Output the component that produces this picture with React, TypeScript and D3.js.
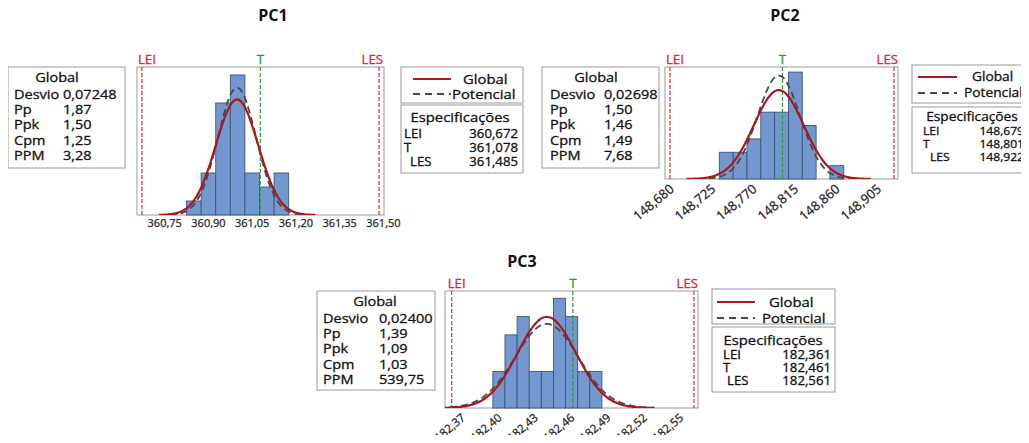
import React from 'react';
import * as d3 from 'd3';

// ---- data ----
const statLabels = ['Desvio', 'Pp', 'Ppk', 'Cpm', 'PPM'];
const specLabels = ['LEI', 'T', 'LES'];

const pc1Stats = ['0,07248', '1,87', '1,50', '1,25', '3,28'];
const pc1Specs = [360.672, 361.078, 361.485];
const pc1Ticks = [360.75, 360.9, 361.05, 361.2, 361.35, 361.5];
const pc1Edges = [360.825, 360.875, 360.925, 360.975, 361.025, 361.075, 361.125, 361.175];
const pc1Counts = [1, 3, 8, 10, 3, 2, 3];
const pc1Mean = 360.998;
const pc1SigmaGlobal = 0.07248;
const pc1SigmaWithin = 0.0658;

const pc2Stats = ['0,02698', '1,50', '1,46', '1,49', '7,68'];
const pc2Specs = [148.679, 148.801, 148.922];
const pc2Ticks = [148.68, 148.725, 148.77, 148.815, 148.86, 148.905];
const pc2Edges = [148.7325, 148.7475, 148.7625, 148.7775, 148.7925, 148.8075, 148.8225, 148.8375, 148.8525, 148.8675];
const pc2Counts = [2, 2, 3, 5, 5, 8, 4, 0, 1];
const pc2Mean = 148.797;
const pc2SigmaGlobal = 0.02698;
const pc2SigmaWithin = 0.0232;

const pc3Stats = ['0,02400', '1,39', '1,09', '1,03', '539,75'];
const pc3Specs = [182.361, 182.461, 182.561];
const pc3Ticks = [182.37, 182.4, 182.43, 182.46, 182.49, 182.52, 182.55];
const pc3Edges = [182.395, 182.405, 182.415, 182.425, 182.435, 182.445, 182.455, 182.465, 182.475, 182.485];
const pc3Counts = [2, 4, 5, 2, 2, 6, 5, 2, 2];
const pc3Mean = 182.4395;
const pc3SigmaGlobal = 0.024;
const pc3SigmaWithin = 0.026;

const FONT = '"Open Sans", "Noto Sans", sans-serif';
const RED = '#a8191c';
const SPEC_RED = '#de2a35';
const GREEN = '#2f9a40';
const SX = 1.1; // the reference text is a little wide for its height

const fmt = (v: number, d: number) => v.toFixed(d).replace('.', ',');

// text stretched horizontally around its anchor
function Txt({ x, y, anchor = 'start', size = 13.5, fill = '#111', children }: any) {
  return (
    <text
      transform={`translate(${x},${y}) scale(${SX},1)`}
      textAnchor={anchor}
      dy="0.35em"
      fontSize={size}
      fill={fill}
      stroke={fill}
      strokeWidth={0.3}
    >
      {children}
    </text>
  );
}

function fitted(mean: number, sigma: number, n: number, bw: number, lo: number, hi: number) {
  const pts: [number, number][] = [];
  const steps = 160;
  for (let i = 0; i <= steps; i++) {
    const x = lo + ((hi - lo) * i) / steps;
    const z = (x - mean) / sigma;
    pts.push([x, (n * bw * Math.exp(-0.5 * z * z)) / (sigma * Math.sqrt(2 * Math.PI))]);
  }
  return pts;
}

function Histogram(props: any) {
  const { id, frame, xDomain, yMax, edges, counts, specs, ticks, dec, rotate, tickSize, mean, sg, sw } = props;
  const [x0, y0, x1, y1] = frame;
  const xs = d3.scaleLinear().domain(xDomain).range([x0, x1]);
  const ys = d3.scaleLinear().domain([0, yMax]).range([y1, y0]);
  const n = d3.sum(counts);
  const bw = edges[1] - edges[0];
  const lo = mean - 3.7 * sg;
  const hi = mean + 3.7 * sg;
  const line = d3
    .line<[number, number]>()
    .x((d) => xs(d[0]))
    .y((d) => ys(d[1]))
    .curve(d3.curveBasis);
  const specColor = [SPEC_RED, GREEN, SPEC_RED];
  return (
    <g>
      <defs>
        <clipPath id={id}>
          <rect x={x0} y={y0} width={x1 - x0} height={y1 - y0} />
        </clipPath>
      </defs>
      <rect x={x0} y={y0} width={x1 - x0} height={y1 - y0} fill="#fff" stroke="#9a9a9a" />
      {counts.map((c: number, i: number) =>
        c > 0 ? (
          <rect
            key={i}
            x={xs(edges[i])}
            y={ys(c)}
            width={xs(edges[i + 1]) - xs(edges[i])}
            height={ys(0) - ys(c)}
            fill="#7398d0"
            stroke="#3e5678"
            strokeWidth={0.9}
          />
        ) : null
      )}
      {specs.map((s: number, i: number) => (
        <g key={i}>
          <line
            x1={xs(s)}
            x2={xs(s)}
            y1={y0}
            y2={y1}
            stroke={specColor[i]}
            strokeWidth={1.2}
            strokeDasharray="4,2"
          />
          <Txt
            x={xs(s) + (i === 0 ? -4 : i === 2 ? 4 : 0)}
            y={y0 - 7}
            size={12}
            fill={specColor[i]}
            anchor={i === 0 ? 'start' : i === 2 ? 'end' : 'middle'}
          >
            {specLabels[i]}
          </Txt>
        </g>
      ))}
      <g clipPath={`url(#${id})`}>
        <path
          d={line(fitted(mean, sw, n, bw, lo, hi)) || ''}
          fill="none"
          stroke="#4a4a4a"
          strokeWidth={1.8}
          strokeDasharray="7,4"
        />
        <path d={line(fitted(mean, sg, n, bw, lo, hi)) || ''} fill="none" stroke={RED} strokeWidth={2.2} />
      </g>
      {ticks.map((t: number, i: number) =>
        rotate ? (
          <text
            key={i}
            transform={`translate(${xs(t) + 1},${y1 + 8}) rotate(-40)`}
            textAnchor="end"
            dy="0.35em"
            fontSize={tickSize}
            fill="#222"
            stroke="#222"
            strokeWidth={0.25}
          >
            {fmt(t, dec)}
          </text>
        ) : (
          <text
            key={i}
            x={xs(t)}
            y={y1 + 12}
            textAnchor="middle"
            fontSize={tickSize}
            fill="#222"
            stroke="#222"
            strokeWidth={0.25}
          >
            {fmt(t, dec)}
          </text>
        )
      )}
    </g>
  );
}

function StatsBox(props: any) {
  const { x, y, w, h, cx, lx, vx, values } = props;
  return (
    <g>
      <rect x={x} y={y} width={w} height={h} fill="#fff" stroke="#9a9a9a" />
      <Txt x={cx} y={y + 10} anchor="middle" size={13.2}>
        Global
      </Txt>
      {statLabels.map((l, i) => (
        <g key={l}>
          <Txt x={lx} y={y + 27 + i * 15.3} size={13.2}>
            {l}
          </Txt>
          <Txt x={vx} y={y + 27 + i * 15.3} size={13.2}>
            {values[i]}
          </Txt>
        </g>
      ))}
    </g>
  );
}

function LegendBox(props: any) {
  const { x, y, w, h1, y2, h2, lineX, gx, px, ly1, ly2, ecx, ey, rows, labX, valX, specs, fs = 13.5 } = props;
  return (
    <g>
      <rect x={x} y={y} width={w} height={h1} fill="#fff" stroke="#9a9a9a" />
      <rect x={x} y={y2} width={w} height={h2} fill="#fff" stroke="#9a9a9a" />
      <line x1={lineX[0]} x2={lineX[1]} y1={ly1} y2={ly1} stroke={RED} strokeWidth={2.2} />
      <Txt x={gx} y={ly1} size={fs}>
        Global
      </Txt>
      <line
        x1={lineX[0]}
        x2={lineX[1]}
        y1={ly2}
        y2={ly2}
        stroke="#4a4a4a"
        strokeWidth={1.8}
        strokeDasharray="7,5"
      />
      <Txt x={px} y={ly2} size={fs}>
        Potencial
      </Txt>
      <Txt x={ecx} y={ey} anchor="middle" size={fs}>
        Especificações
      </Txt>
      {specLabels.map((l, i) => (
        <g key={l}>
          <Txt x={labX[i]} y={rows[i]} size={fs - 1.5}>
            {l}
          </Txt>
          <Txt x={valX} y={rows[i]} size={fs - 1.5} anchor="end">
            {fmt(specs[i], 3)}
          </Txt>
        </g>
      ))}
    </g>
  );
}

export default function App() {
  return (
    <svg width={1029} height={443} style={{ display: 'block', margin: '-8px', fontFamily: FONT }}>
      <rect width={1029} height={443} fill="#fff" />
      <g fontWeight="bold" fontSize={16} fill="#111" textAnchor="middle">
        <text x={273} y={21}>PC1</text>
        <text x={785} y={21}>PC2</text>
        <text x={522} y={267}>PC3</text>
      </g>

      <StatsBox x={8} y={67} w={117} h={101} cx={57} lx={14} vx={63} values={pc1Stats} />
      <Histogram
        id="c1"
        frame={[137, 67, 384, 215]}
        xDomain={[360.655, 361.502]}
        yMax={10.57}
        edges={pc1Edges}
        counts={pc1Counts}
        specs={pc1Specs}
        ticks={pc1Ticks}
        dec={2}
        rotate={false}
        tickSize={11}
        mean={pc1Mean}
        sg={pc1SigmaGlobal}
        sw={pc1SigmaWithin}
      />
      <LegendBox
        x={401}
        y={67}
        w={122}
        h1={36}
        y2={105}
        h2={68}
        lineX={[413, 451]}
        gx={463}
        px={452}
        ly1={79}
        ly2={94}
        ecx={460}
        ey={117}
        rows={[134, 148, 162]}
        labX={[404, 404, 410]}
        valX={518}
        specs={pc1Specs}
      />

      <StatsBox x={542} y={67} w={117} h={101} cx={596} lx={550} vx={604} values={pc2Stats} />
      <Histogram
        id="c2"
        frame={[665, 67, 898, 179]}
        xDomain={[148.6736, 148.9263]}
        yMax={8.38}
        edges={pc2Edges}
        counts={pc2Counts}
        specs={pc2Specs}
        ticks={pc2Ticks}
        dec={3}
        rotate={true}
        tickSize={13}
        mean={pc2Mean}
        sg={pc2SigmaGlobal}
        sw={pc2SigmaWithin}
      />
      <LegendBox
        x={912}
        y={65}
        w={130}
        h1={38}
        y2={107}
        h2={66}
        lineX={[918, 957]}
        gx={972}
        px={964}
        ly1={77}
        ly2={93}
        ecx={972}
        ey={117}
        rows={[131, 144, 157]}
        labX={[923, 923, 930]}
        valX={1024}
        specs={pc2Specs}
        fs={12.5}
      />

      <StatsBox x={317} y={291} w={118} h={99} cx={375} lx={323} vx={379} values={pc3Stats} />
      <Histogram
        id="c3"
        frame={[445, 291, 698, 408]}
        xDomain={[182.3555, 182.5643]}
        yMax={6.4}
        edges={pc3Edges}
        counts={pc3Counts}
        specs={pc3Specs}
        ticks={pc3Ticks}
        dec={2}
        rotate={true}
        tickSize={11.5}
        mean={pc3Mean}
        sg={pc3SigmaGlobal}
        sw={pc3SigmaWithin}
      />
      <LegendBox
        x={712}
        y={289}
        w={123}
        h1={35}
        y2={327}
        h2={65}
        lineX={[717, 755]}
        gx={769}
        px={762}
        ly1={302}
        ly2={318}
        ecx={773}
        ey={340}
        rows={[355, 368, 381]}
        labX={[723, 723, 727]}
        valX={831}
        specs={pc3Specs}
      />
    </svg>
  );
}
